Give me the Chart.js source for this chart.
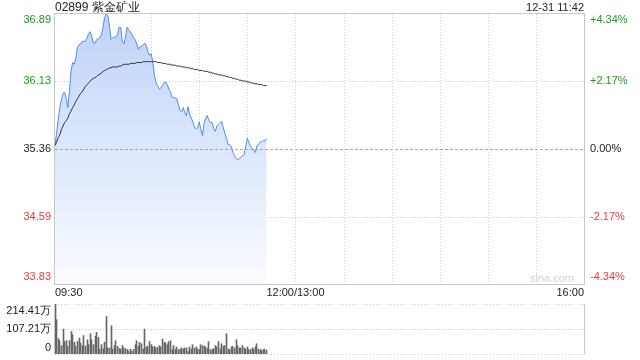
<!DOCTYPE html>
<html><head><meta charset="utf-8">
<script src="https://cdn.jsdelivr.net/npm/chart.js@4.4.1/dist/chart.umd.min.js"></script>
<style>
html,body{margin:0;padding:0;background:#fff;}
#wrap{position:relative;width:640px;height:360px;overflow:hidden;}
canvas{position:absolute;left:0;top:0;}
</style></head><body>
<div id="wrap"><canvas id="c1" width="640" height="360"></canvas><canvas id="c2" width="640" height="360"></canvas></div>
<script>
const titleText = "02899 紫金矿业";
const stampText = "12-31 11:42";
const prevClose = 35.36;
const priceTicks = [36.89, 36.13, 35.36, 34.59, 33.83];
const pctTicks = ["+4.34%", "+2.17%", "0.00%", "-2.17%", "-4.34%"];
const timeLabels = ["09:30", "12:00/13:00", "16:00"];
const timeLabelMinutes = [0, 150, 330];
const gridMinutes = [30, 60, 90, 120, 150, 180, 210, 240, 270, 300];
const totalMinutes = 330;
const volTicks = [214.41, 107.21, 0];
const volTickLabels = ["214.41万", "107.21万", "0"];

const price = [
35.40,35.54,35.69,35.83,35.92,35.99,36.00,35.94,35.83,36.01,
36.24,36.34,36.32,36.39,36.51,36.54,36.55,36.58,36.58,36.58,
36.62,36.67,36.69,36.63,36.56,36.56,36.60,36.61,36.62,36.66,
36.75,36.85,36.89,36.87,36.75,36.60,36.62,36.63,36.63,36.66,
36.74,36.74,36.58,36.55,36.63,36.74,36.71,36.69,36.66,36.62,
36.60,36.55,36.49,36.52,36.52,36.54,36.56,36.53,36.46,36.42,
36.44,36.35,36.20,36.11,36.08,36.04,36.05,36.08,36.11,36.12,
36.09,36.04,36.01,35.95,35.94,35.94,35.93,35.86,35.80,35.78,
35.83,35.77,35.74,35.84,35.75,35.71,35.67,35.61,35.59,35.60,
35.67,35.58,35.51,35.65,35.71,35.74,35.68,35.66,35.66,35.59,
35.56,35.62,35.64,35.66,35.67,35.60,35.54,35.48,35.41,35.41,
35.39,35.32,35.28,35.25,35.24,35.25,35.27,35.28,35.30,35.39,
35.48,35.43,35.39,35.37,35.35,35.32,35.40,35.41,35.44,35.44,
35.46,35.45,35.48];

const avgPrice = [
35.40,35.44,35.49,35.52,35.58,35.62,35.66,35.68,35.71,35.76,
35.79,35.83,35.86,35.90,35.93,35.96,35.99,36.01,36.04,36.07,
36.09,36.11,36.13,36.15,36.16,36.17,36.18,36.20,36.21,36.22,
36.24,36.25,36.26,36.27,36.28,36.28,36.29,36.29,36.29,36.29,
36.30,36.30,36.31,36.32,36.32,36.32,36.32,36.33,36.33,36.33,
36.33,36.34,36.34,36.34,36.34,36.35,36.35,36.35,36.35,36.35,
36.35,36.35,36.35,36.35,36.34,36.34,36.34,36.33,36.33,36.33,
36.32,36.32,36.32,36.31,36.31,36.31,36.30,36.30,36.30,36.29,
36.29,36.29,36.28,36.28,36.28,36.27,36.27,36.26,36.26,36.26,
36.25,36.25,36.25,36.24,36.24,36.24,36.23,36.23,36.22,36.22,
36.21,36.21,36.20,36.20,36.20,36.19,36.19,36.18,36.18,36.17,
36.17,36.16,36.16,36.15,36.15,36.14,36.14,36.13,36.13,36.13,
36.12,36.12,36.11,36.11,36.10,36.10,36.10,36.09,36.09,36.09,
36.08,36.08,36.08];

const volume = [
214.41,147,66,57,36,107,54,57,33,57,
97,83,50,33,54,69,47,36,79,33,
61,40,87,61,40,76,93,71,21,40,
23,51,161,26,26,121,21,36,57,33,
24,21,36,26,23,19,11,21,11,19,
40,57,33,50,44,21,107,29,33,54,
40,30,33,26,29,36,30,64,50,47,
40,53,57,19,36,19,30,19,21,26,
21,26,26,11,30,21,40,26,30,21,
19,40,36,33,30,23,53,19,19,23,
36,30,53,21,44,33,36,87,21,19,
30,33,26,61,36,26,26,36,26,21,
30,19,19,26,21,30,44,21,19,16,
19,21,16];

const FONT = '"Liberation Sans", Arial, sans-serif';
const GREEN = '#1a9e1a';
const RED = '#ee3a3a';
const DARK = '#222';
const GRID = '#cfcfcf';
const BORDER = '#c8c8c8';

function hiddenAxis(extra) {
  return Object.assign({display: true, grid: {display: false, drawTicks: false}, border: {display: false}, ticks: {display: false}}, extra);
}
function colorFor(v) { return v > prevClose ? GREEN : (v < prevClose ? RED : DARK); }
function crisp(v) { return Math.round(v) + 0.5; }

const priceDecor = {
  id: 'priceDecor',
  beforeDatasetsDraw(chart) {
    const {ctx, chartArea: a, scales: {x, y}} = chart;
    ctx.save();
    ctx.lineWidth = 1;
    ctx.strokeStyle = GRID;
    ctx.setLineDash([1, 2]);
    gridMinutes.forEach(m => {
      const px = crisp(x.getPixelForValue(m));
      ctx.beginPath(); ctx.moveTo(px, a.top); ctx.lineTo(px, a.bottom); ctx.stroke();
    });
    priceTicks.forEach((v, i) => {
      if (i === 0 || i === priceTicks.length - 1 || v === prevClose) return;
      const py = crisp(y.getPixelForValue(v));
      ctx.beginPath(); ctx.moveTo(a.left, py); ctx.lineTo(a.right, py); ctx.stroke();
    });
    ctx.restore();
  },
  afterDatasetsDraw(chart) {
    const {ctx, chartArea: a, scales: {x, y}} = chart;
    ctx.save();
    ctx.lineWidth = 1;
    ctx.strokeStyle = '#a8a8a8';
    ctx.setLineDash([3, 2]);
    const zy = crisp(y.getPixelForValue(prevClose));
    ctx.beginPath(); ctx.moveTo(a.left, zy); ctx.lineTo(a.right, zy); ctx.stroke();
    ctx.setLineDash([]);
    ctx.strokeStyle = BORDER;
    ctx.strokeRect(Math.round(a.left) - 0.5, Math.round(a.top) - 0.5, Math.round(a.right - a.left) + 1, Math.round(a.bottom - a.top) + 1);
    ctx.textBaseline = 'middle';
    ctx.font = '11px ' + FONT;
    priceTicks.forEach((v, i) => {
      let py = y.getPixelForValue(v);
      if (i === 0) py += 6;
      if (i === priceTicks.length - 1) py -= 7;
      ctx.fillStyle = colorFor(v);
      ctx.textAlign = 'right';
      ctx.fillText(v.toFixed(2), 51, py);
      ctx.textAlign = 'left';
      ctx.fillText(pctTicks[i], 590, py);
    });
    ctx.fillStyle = DARK;
    timeLabels.forEach((t, i) => {
      const px = x.getPixelForValue(timeLabelMinutes[i]);
      ctx.textAlign = i === 0 ? 'left' : (i === timeLabels.length - 1 ? 'right' : 'center');
      ctx.fillText(t, px, 293);
    });
    ctx.textAlign = 'right';
    ctx.fillText(stampText, a.right, 8);
    ctx.font = '12px ' + FONT;
    ctx.textAlign = 'left';
    ctx.fillText(titleText, a.left, 7.5);
    ctx.font = '11px ' + FONT;
    ctx.fillStyle = '#d2d2d2';
    ctx.textAlign = 'right';
    ctx.fillText('sina.com', a.right - 10, 279);
    ctx.restore();
  }
};

new Chart(document.getElementById('c1'), {
  type: 'line',
  data: {
    datasets: [
      {data: avgPrice.map((v, i) => ({x: i, y: v})), borderColor: '#333', borderWidth: 1, pointRadius: 0, fill: false, tension: 0},
      {data: price.map((v, i) => ({x: i, y: v})), borderColor: '#4e8cee', borderWidth: 1, pointRadius: 0, tension: 0,
       fill: 'start',
       backgroundColor: (c) => {
         const ca = c.chart.chartArea;
         if (!ca) return 'rgba(200,218,250,0.6)';
         const g = c.chart.ctx.createLinearGradient(0, ca.top, 0, ca.bottom);
         g.addColorStop(0, 'rgb(190,210,248)');
         g.addColorStop(1, 'rgb(250,252,255)');
         return g;
       }}
    ]
  },
  options: {
    responsive: false, animation: false, devicePixelRatio: 1, events: [],
    layout: {padding: {left: 55, right: 56, top: 14, bottom: 76}},
    plugins: {legend: {display: false}, tooltip: {enabled: false}},
    scales: {
      x: hiddenAxis({type: 'linear', min: 0, max: totalMinutes}),
      y: hiddenAxis({type: 'linear', min: priceTicks[priceTicks.length - 1], max: priceTicks[0]})
    }
  },
  plugins: [priceDecor]
});

const volDecor = {
  id: 'volDecor',
  afterDatasetsUpdate(chart) {
    // snap the library-computed bar centres to whole pixels so 1px bars stay crisp
    chart.getDatasetMeta(0).data.forEach(el => { el.x = Math.floor(el.x) + 0.5; });
  },
  beforeDatasetsDraw(chart) {
    const {ctx, chartArea: a, scales: {y}} = chart;
    ctx.save();
    ctx.lineWidth = 1;
    ctx.strokeStyle = GRID;
    ctx.setLineDash([1, 2]);
    volTicks.forEach(v => {
      const py = crisp(y.getPixelForValue(v));
      ctx.beginPath(); ctx.moveTo(a.left, py); ctx.lineTo(a.right, py); ctx.stroke();
    });
    ctx.setLineDash([]);
    ctx.strokeStyle = BORDER;
    const r = Math.round(a.right) + 0.5, l = Math.round(a.left) - 0.5;
    ctx.beginPath(); ctx.moveTo(r, a.top); ctx.lineTo(r, a.bottom); ctx.stroke();
    ctx.beginPath(); ctx.moveTo(l, a.top); ctx.lineTo(l, a.bottom); ctx.stroke();
    ctx.restore();
  },
  afterDatasetsDraw(chart) {
    const {ctx, scales: {y}} = chart;
    ctx.save();
    ctx.font = '11px ' + FONT;
    ctx.fillStyle = DARK;
    ctx.textAlign = 'right';
    ctx.textBaseline = 'middle';
    volTicks.forEach((v, i) => {
      let py = y.getPixelForValue(v);
      if (i === 0) py += 7;
      if (i === volTicks.length - 1) py -= 6;
      ctx.fillText(volTickLabels[i], 51, py);
    });
    ctx.restore();
  }
};

new Chart(document.getElementById('c2'), {
  type: 'bar',
  data: {
    datasets: [{data: volume.map((v, i) => ({x: i, y: v})), backgroundColor: '#666', borderWidth: 0, barThickness: 1}]
  },
  options: {
    responsive: false, animation: false, devicePixelRatio: 1, events: [],
    layout: {padding: {left: 55, right: 56, top: 304, bottom: 6}},
    plugins: {legend: {display: false}, tooltip: {enabled: false}},
    scales: {
      x: hiddenAxis({type: 'linear', min: 0, max: totalMinutes, offset: false}),
      y: hiddenAxis({type: 'linear', min: 0, max: volTicks[0]})
    }
  },
  plugins: [volDecor]
});
</script>
</body></html>
